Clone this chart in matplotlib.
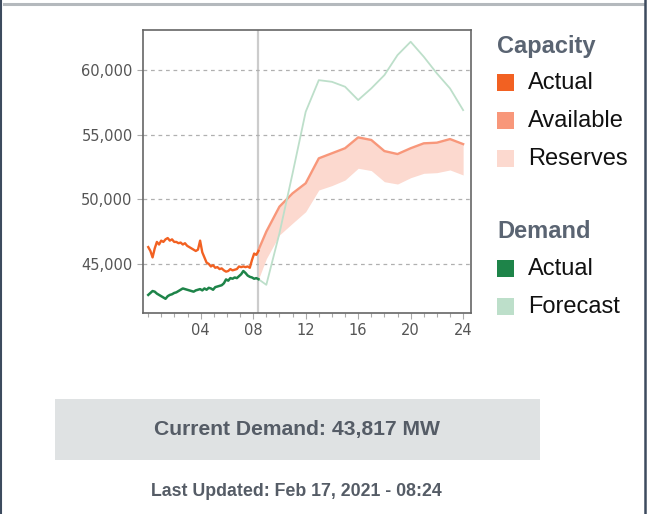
import numpy as np
import matplotlib.pyplot as plt
from matplotlib.patches import Rectangle
from matplotlib.lines import Line2D

# capacity actual, every 10 min from 00:00 to 08:20 (MW)
cap_actual = [46300, 46000, 45500, 46200, 46700, 46500, 46800, 46700, 46900, 47000,
              46800, 46900, 46700, 46700, 46600, 46650, 46500, 46600, 46400, 46300,
              46200, 46100, 46000, 46100, 46800, 45900, 45500, 45100, 45000, 44800,
              44900, 44700, 44750, 44600, 44650, 44500, 44400, 44450, 44600, 44500,
              44550, 44600, 44800, 44750, 44800, 44750, 44800, 44700, 45300, 45800,
              45700, 46000]
# demand actual, same times
dem_actual = [42600, 42750, 42900, 42850, 42700, 42600, 42500, 42400, 42300, 42500,
              42600, 42650, 42750, 42800, 42900, 43000, 43100, 43050, 43000, 42950,
              42900, 42850, 42950, 43000, 43050, 42950, 43100, 43000, 43150, 43100,
              43000, 43200, 43250, 43300, 43350, 43500, 43800, 43700, 43900, 43850,
              43950, 43900, 44050, 44200, 44450, 44300, 44100, 44000, 43950, 43850,
              43900, 43817]

# hourly outlook from now (08:24) to 24:00
fc_hours = [8.4, 9, 10, 11, 12, 13, 14, 15, 16, 17, 18, 19, 20, 21, 22, 23, 24]
dem_forecast = [43817, 43380, 47370, 52000, 56770, 59220, 59090, 58710, 57680, 58580,
                59610, 61160, 62190, 61030, 59740, 58580, 56900]
cap_available = [46080, 47500, 49430, 50460, 51240, 53170, 53560, 53950, 54790, 54590,
                 53730, 53500, 53950, 54330, 54380, 54660, 54270]
cap_reserves_low = [43817, 45400, 47240, 48150, 49040, 50720, 51060, 51490, 52400, 52220,
                    51360, 51180, 51670, 52010, 52060, 52270, 51880]

now_hour = 8.4
xtick_hours = [4, 8, 12, 16, 20, 24]
xtick_labels = ["04", "08", "12", "16", "20", "24"]
ytick_vals = [45000, 50000, 55000, 60000]

c_cap_act = "#f26122"
c_cap_avail = "#f8977a"
c_cap_res = "#fcd9cf"
c_dem_act = "#1e8449"
c_dem_fc = "#bddfca"
txt_gray = "#5a6472"

W, H = 649, 514
fig = plt.figure(figsize=(W / 100, H / 100), dpi=100)

# panel border
fig.add_artist(Line2D([4 / W, 644 / W], [1 - 4 / H, 1 - 4 / H], color="#b4b9bd", lw=2.2))
fig.add_artist(Line2D([644.5 / W, 644.5 / W], [0, 1], color="#3d4b5e", lw=1.8))
fig.add_artist(Line2D([0.8 / W, 0.8 / W], [0, 1], color="#3d4b5e", lw=1.5))

ax = fig.add_axes([143 / W, 1 - 313 / H, (471 - 143) / W, (313 - 30) / H])

t_act = np.linspace(0, now_hour, len(cap_actual))
ax.fill_between(fc_hours, cap_reserves_low, cap_available, color=c_cap_res, lw=0, zorder=2)
ax.plot(fc_hours, cap_available, color=c_cap_avail, lw=1.7, zorder=3)
ax.plot(fc_hours, dem_forecast, color=c_dem_fc, lw=1.3, zorder=3)
ax.plot(t_act, cap_actual, color=c_cap_act, lw=1.7, zorder=4)
ax.plot(t_act, dem_actual, color=c_dem_act, lw=1.8, zorder=4)
ax.axvline(now_hour, color="#cccccc", lw=1.6, zorder=1)

ax.set_xlim(-0.4, 24.6)
ax.set_ylim(41200, 63100)
ax.set_xticks(xtick_hours)
ax.set_xticklabels(xtick_labels)
ax.set_xticks(range(0, 25), minor=True)
ax.set_yticks(ytick_vals)
ax.set_yticklabels([f"{v:,}" for v in ytick_vals])
ax.grid(axis="y", color="#b0b0b0", ls=(0, (3, 3)), lw=0.9)
ax.tick_params(labelsize=10.5, labelcolor="#555555", color="#aaaaaa", length=4, width=0.8)
ax.tick_params(which="minor", color="#aaaaaa", length=3, width=0.8)
for s in ax.spines.values():
    s.set_color("#666666")
    s.set_linewidth(1.2)

# legend drawn by hand
def sq(y, c):
    fig.add_artist(Rectangle((497 / W, 1 - (y + 8) / H), 17 / W, 17 / H, color=c, lw=0))

def label(y, s, bold=False):
    if bold:
        fig.text(497 / W, 1 - y / H, s, fontsize=17, fontweight="bold", color=txt_gray,
                 family="Liberation Sans", va="center")
    else:
        fig.text(528 / W, 1 - y / H, s, fontsize=17, color="#111111",
                 family="Liberation Sans", va="center")

label(46, "Capacity", True)
sq(83, c_cap_act); label(83, "Actual")
sq(121, c_cap_avail); label(121, "Available")
sq(159, c_cap_res); label(159, "Reserves")
label(232, "Demand", True)
sq(269, c_dem_act); label(269, "Actual")
sq(307, c_dem_fc); label(307, "Forecast")

# current demand box
fig.add_artist(Rectangle((55 / W, 1 - 460 / H), (540 - 55) / W, (460 - 399) / H,
                         color="#dfe2e3", lw=0))
fig.text(297 / W, 1 - 430 / H, "Current Demand: 43,817 MW", fontsize=15.2, fontweight="bold",
         color="#555c66", family="Liberation Sans", ha="center", va="center")
fig.text(296 / W, 1 - 492 / H, "Last Updated: Feb 17, 2021 - 08:24", fontsize=12.8,
         fontweight="bold", color="#555c66", family="Liberation Sans", ha="center", va="center")

fig.savefig("out.png", dpi=100)
